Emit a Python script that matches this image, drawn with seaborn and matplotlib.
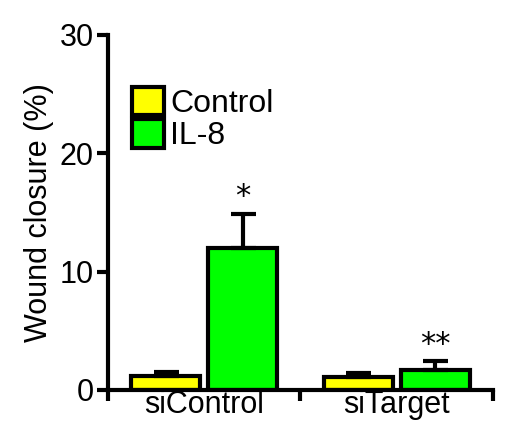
import numpy as np
import pandas as pd
import seaborn as sns
from matplotlib import pyplot as plt

groups = ["siControl", "siTarget"]
treatments = ["Control", "IL-8"]
control_vals = [1.2, 1.1]
control_err = [0.3, 0.3]
il8_vals = [12.0, 1.7]
il8_err = [2.9, 0.7]
stars = ["*", "**"]

df = pd.DataFrame({
    "group": groups * 2,
    "treatment": ["Control"] * 2 + ["IL-8"] * 2,
    "value": control_vals + il8_vals,
})

sns.set_style("ticks")
plt.rcParams["font.family"] = ["Liberation Sans", "DejaVu Sans"]
for k in ["text.color", "axes.labelcolor", "xtick.color", "ytick.color", "axes.edgecolor"]:
    plt.rcParams[k] = "black"

fig = plt.figure(figsize=(5.11, 4.42), dpi=100)
ax = fig.add_axes([0.211, 0.118, 0.754, 0.803])
sns.barplot(data=df, x="group", y="value", hue="treatment", order=groups,
            hue_order=treatments, palette=["#ffff00", "#00ff00"], saturation=1,
            width=0.8, edgecolor="black", linewidth=3, errorbar=None, ax=ax)
# leave a small gap between paired bars
for p in ax.patches:
    w = p.get_width()
    if w > 0.3:
        c = p.get_x() + w / 2
        p.set_width(0.36)
        p.set_x(c - 0.18)

offs = [-0.2, 0.2]
for vals, errs, off in [(control_vals, control_err, offs[0]), (il8_vals, il8_err, offs[1])]:
    x = np.arange(len(groups)) + off
    ax.errorbar(x, vals, yerr=[np.zeros(len(vals)), errs], fmt="none",
                ecolor="black", elinewidth=3, capsize=9, capthick=3, zorder=1)
for i, s in enumerate(stars):
    ax.text(i + offs[1], il8_vals[i] + il8_err[i] + 0.2, s, ha="center",
            va="bottom", fontsize=22, family="DejaVu Sans")

ax.set_xlim(-0.5, 1.5)
ax.set_ylim(0, 30)
ax.set_yticks([0, 10, 20, 30])
ax.set_xticks([-0.5, 0.5, 1.5])
ax.set_xticklabels(["", "", ""])
ax.set_xticks([0, 1], minor=True)
ax.set_xticklabels(groups, minor=True)
ax.tick_params(axis="x", which="major", length=8, width=3)
ax.tick_params(axis="x", which="minor", length=0, labelsize=22, pad=0)
ax.tick_params(axis="y", length=8, width=3, labelsize=22, pad=2)
ax.set_xlabel("")
ax.set_ylabel("Wound closure (%)", fontsize=22, labelpad=4)
for s in ["left", "bottom"]:
    ax.spines[s].set_linewidth(3)
sns.despine(ax=ax)
ax.spines["bottom"].set_zorder(5)

ax.legend(loc="upper left", bbox_to_anchor=(0.03, 0.89), frameon=False,
          fontsize=23, handlelength=1.0, handleheight=1.0, handletextpad=0.2,
          labelspacing=0.0, borderaxespad=0)

fig.savefig("out.png", dpi=100)
